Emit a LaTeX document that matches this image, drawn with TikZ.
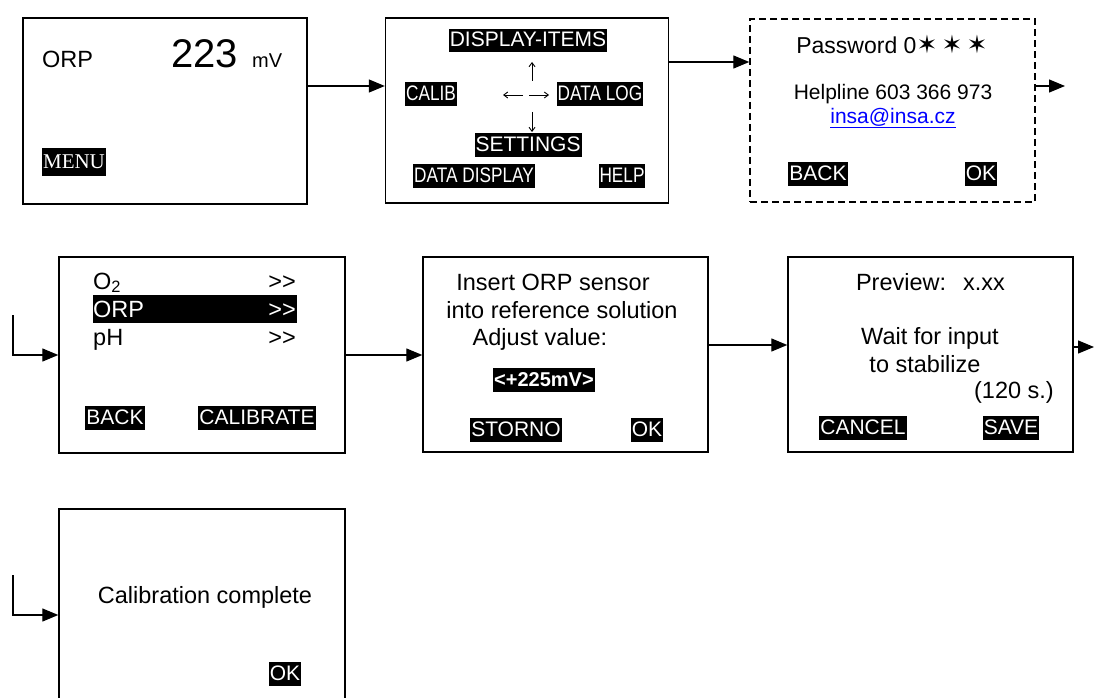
\documentclass[tikz,border=0pt]{standalone}
\usepackage{fontspec}
\setmainfont{Liberation Sans}
\newfontfamily\narrowfont{Liberation Sans}[FakeStretch=0.82]
\newfontfamily\seriffont{Liberation Serif}
\newfontfamily\symfont{DejaVu Sans}
\usetikzlibrary{arrows.meta}
\begin{document}
\begin{tikzpicture}[x=1pt, y=-1pt, every node/.style={inner sep=0pt},
    screen/.style={draw, line width=1.4pt},
    inv/.style={fill=black, text=white, inner xsep=1pt, inner ysep=0.5pt, text height=17.5pt, text depth=5pt},
    big/.style={font=\fontsize{23.5}{28}\selectfont},
    btn/.style={font=\fontsize{21}{25}\selectfont},
    nbtn/.style={font=\narrowfont\fontsize{21}{25}\selectfont},
    flow/.style={line width=1.3pt, -{Triangle[length=16pt,width=13pt]}},
    hint/.style={line width=0.9pt, -{Straight Barb[length=4pt,width=6pt]}}]
    \clip (0,0) rectangle (1095,698);
    \node[screen, minimum width=284pt, minimum height=186pt] (main) at (165,111) {};
    \node[screen, minimum width=283pt, minimum height=185pt] (menu) at (527,110.5) {};
    \node[screen, dash pattern=on 7pt off 4pt, minimum width=285pt, minimum height=183pt] (pass) at (892.5,110.5) {};
    \node[screen, minimum width=286pt, minimum height=196pt] (sensor) at (202,355) {};
    \node[screen, minimum width=285pt, minimum height=195pt] (insert) at (565.5,354.5) {};
    \node[screen, minimum width=285pt, minimum height=195pt] (preview) at (930.5,354.5) {};
    \node[screen, minimum width=286pt, minimum height=212pt] (done) at (202,615) {};

    \node[big, anchor=base west] (orp) at (42,68) {ORP};
    \node[font=\fontsize{40}{44}\selectfont, anchor=base west] (value) at (171,68) {223};
    \node[font=\fontsize{20}{24}\selectfont, anchor=base west] (unit) at (252,68) {mV};
    \node[inv, font=\seriffont\fontsize{21}{25}\selectfont, inner ysep=3pt] (menubtn) at (74,162) {MENU};

    \node[inv, btn] (items) at (528,40.5) {DISPLAY-ITEMS};
    \node[inv, nbtn] (calib) at (431,94) {CALIB};
    \node[inv, nbtn] (datalog) at (600,94) {DATA LOG};
    \node[inv, btn] (settings) at (528,145) {SETTINGS};
    \node[inv, nbtn] (datadisp) at (474,176) {DATA DISPLAY};
    \node[inv, nbtn] (helpbtn) at (622,176) {HELP};
    \coordinate (up0) at (532,81);
    \coordinate (up1) at (532,62);
    \coordinate (lt0) at (523,95);
    \coordinate (lt1) at (503,95);
    \coordinate (rt0) at (529,95);
    \coordinate (rt1) at (549,95);
    \coordinate (dn0) at (532,112);
    \coordinate (dn1) at (532,132);
    \draw[hint] (up0) -- (up1);
    \draw[hint] (lt0) -- (lt1);
    \draw[hint] (rt0) -- (rt1);
    \draw[hint] (dn0) -- (dn1);

    \node[font=\fontsize{23}{28}\selectfont] (pwd) at (892,44) {Password 0{\symfont\fontsize{25}{28}\selectfont ✶\,✶\,✶}};
    \node[btn] (helpline) at (893,94) {Helpline 603 366 973};
    \node[btn, text=blue] (mail) at (893,118) {\underline{insa@insa.cz}};
    \node[inv, btn] (back1) at (818,174) {BACK};
    \node[inv, btn] (ok1) at (981,174) {OK};

    \node[fill=black, minimum width=204pt, minimum height=28pt] (orpbar) at (195,309) {};
    \node[big, anchor=base west] (otwo) at (93,289) {O\textsubscript{2}};
    \node[big, anchor=base east] (otwonext) at (296,289) {>{}>};
    \node[big, text=white, anchor=base west] (orpsel) at (93,317) {ORP};
    \node[big, text=white, anchor=base east] (orpnext) at (296,317) {>{}>};
    \node[big, anchor=base west] (ph) at (93,345) {pH};
    \node[big, anchor=base east] (phnext) at (296,345) {>{}>};
    \node[inv, btn] (back2) at (115,418) {BACK};
    \node[inv, btn] (calibrate) at (257,418) {CALIBRATE};

    \node[big, anchor=base] (ins1) at (553,290) {Insert ORP sensor};
    \node[big, anchor=base] (ins2) at (562,318) {into reference solution};
    \node[big, anchor=base] (ins3) at (540,345) {Adjust value:};
    \node[inv, font=\bfseries\fontsize{20}{24}\selectfont] (setval) at (544,380) {<+225mV>};
    \node[inv, btn] (storno) at (516,430) {STORNO};
    \node[inv, btn] (ok2) at (647,430) {OK};

    \node[big, anchor=base] (prev) at (930.5,290) {Preview:\hspace{17pt}x.xx};
    \node[big, anchor=base] (wait1) at (930,344) {Wait for input};
    \node[big, anchor=base] (wait2) at (925,372) {to stabilize};
    \node[big, anchor=base east] (secs) at (1054,398) {(120 s.)};
    \node[inv, btn] (cancel) at (863,428) {CANCEL};
    \node[inv, btn] (save) at (1011,428) {SAVE};

    \node[big, anchor=base] (complete) at (205,603) {Calibration complete};
    \node[inv, btn] (ok3) at (285,674) {OK};

    \coordinate (out1) at (1065,86);
    \coordinate (in2) at (13,315);
    \coordinate (out2) at (1094,347);
    \coordinate (in3) at (13,575);
    \draw[flow] ([yshift=25pt]main.east) -- ([yshift=25pt]main.east -| menu.west);
    \draw[flow] ([yshift=48.5pt]menu.east) -- ([yshift=48.5pt]menu.east -| pass.west);
    \draw[flow] ([yshift=24.5pt]pass.east) -- (out1);
    \draw[flow] (in2) |- (sensor.west);
    \draw[flow] (sensor.east) -- (sensor.east -| insert.west);
    \draw[flow] ([yshift=9.5pt]insert.east) -- ([yshift=9.5pt]insert.east -| preview.west);
    \draw[flow] ([yshift=7.5pt]preview.east) -- (out2);
    \draw[flow] (in3) |- (done.west);
\end{tikzpicture}
\end{document}
